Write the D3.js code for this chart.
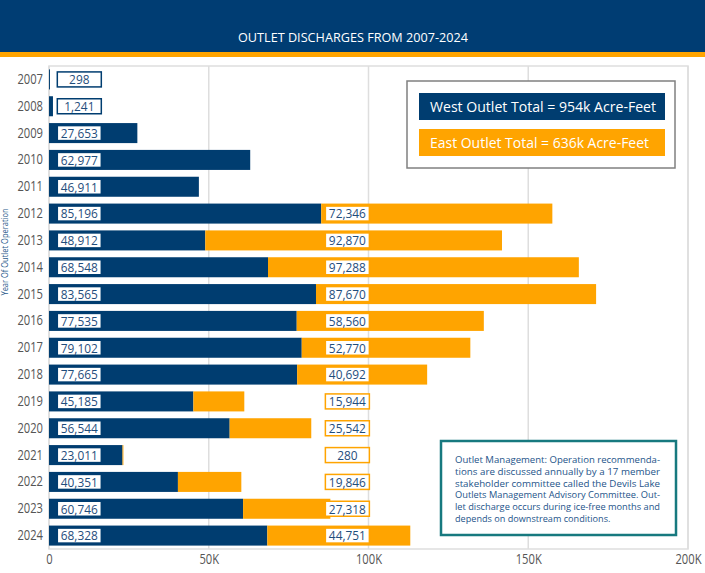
<!DOCTYPE html>
<html>
<head>
<meta charset="utf-8">
<script src="https://cdn.jsdelivr.net/npm/d3@7"></script>
<style>
  html, body { margin: 0; padding: 0; background: #fff; }
  svg { display: block; }
</style>
</head>
<body>
<svg id="chart" width="705" height="573"></svg>
<script>
const years = ["2007","2008","2009","2010","2011","2012","2013","2014","2015","2016","2017","2018","2019","2020","2021","2022","2023","2024"];
const westValues = [298, 1241, 27653, 62977, 46911, 85196, 48912, 68548, 83565, 77535, 79102, 77665, 45185, 56544, 23011, 40351, 60746, 68328];
const eastValues = [0, 0, 0, 0, 0, 72346, 92870, 97288, 87670, 58560, 52770, 40692, 15944, 25542, 280, 19846, 27318, 44751];
const xTicks = [0, 50000, 100000, 150000, 200000];
const xTickLabels = ["0", "50K", "100K", "150K", "200K"];
const titleText = "OUTLET DISCHARGES FROM 2007-2024";
const yAxisTitle = "Year Of Outlet Operation";
const legendLabels = ["West Outlet Total = 954k Acre-Feet", "East Outlet Total = 636k Acre-Feet"];
const noteLines = [
  "Outlet Management: Operation recommenda-",
  "tions are discussed annually by a 17 member",
  "stakeholder committee called the Devils Lake",
  "Outlets Management Advisory Committee. Out-",
  "let discharge occurs during ice-free months and",
  "depends on downstream conditions."
];

const NAVY = "#003d70";
const ORANGE = "#ffa400";
const LABEL_TXT = "#1f4d7c";
const GRID = "#dedede";
const SANS = "'Open Sans', 'Noto Sans', sans-serif";

const svg = d3.select("#chart");
const W = 705;

// condense text horizontally (Myriad-like look)
function condense(sel, factor) {
  sel.each(function () {
    const len = this.getComputedTextLength();
    d3.select(this).attr("textLength", len * factor).attr("lengthAdjust", "spacingAndGlyphs");
  });
}

// header
svg.append("rect").attr("x", 0).attr("y", 0).attr("width", W).attr("height", 52).attr("fill", "#003d73");
svg.append("rect").attr("x", 0).attr("y", 52).attr("width", W).attr("height", 5).attr("fill", ORANGE);
svg.append("text").attr("x", 353).attr("y", 42).attr("text-anchor", "middle")
  .attr("fill", "#fff").attr("font-family", SANS).attr("font-size", 13)
  .attr("textLength", 230).attr("lengthAdjust", "spacingAndGlyphs").text(titleText);

const m = { left: 49, right: 688, top: 66, bottom: 549 };
const x = d3.scaleLinear().domain([0, 200000]).range([m.left, m.right]);
const y = d3.scaleBand().domain(years).range([m.top, m.bottom]).paddingInner(0.254).paddingOuter(0.127);

// frame + gridlines
svg.append("rect").attr("x", m.left).attr("y", m.top).attr("width", m.right - m.left).attr("height", m.bottom - m.top)
  .attr("fill", "none").attr("stroke", GRID).attr("stroke-width", 1.5);
svg.append("g").selectAll("line").data(xTicks).join("line")
  .attr("x1", d => x(d)).attr("x2", d => x(d)).attr("y1", m.top).attr("y2", m.bottom)
  .attr("stroke", GRID).attr("stroke-width", 1.5);

// axes
const xAxis = d3.axisBottom(x).tickValues(xTicks).tickFormat((d, i) => xTickLabels[i]).tickSize(0).tickPadding(5);
const gx = svg.append("g").attr("transform", `translate(0,${m.bottom})`).call(xAxis);
gx.select(".domain").remove();
gx.selectAll("text").attr("fill", "#555").attr("font-family", SANS).attr("font-size", 14);
condense(gx.selectAll("text"), 0.8);

const yAxis = d3.axisLeft(y).tickSize(0).tickPadding(6);
const gy = svg.append("g").attr("transform", `translate(${m.left},0)`).call(yAxis);
gy.select(".domain").remove();
gy.selectAll("text").attr("fill", "#555").attr("font-family", SANS).attr("font-size", 14);
condense(gy.selectAll("text"), 0.8);

const yt = svg.append("text").attr("transform", `translate(8,252) rotate(-90)`).attr("text-anchor", "middle")
  .attr("fill", "#2a5b8c").attr("font-family", SANS).attr("font-size", 8.5).text(yAxisTitle);
condense(yt, 0.88);

// bars
const rows = years.map((yr, i) => ({ year: yr, west: westValues[i], east: eastValues[i] }));
svg.append("g").selectAll("rect").data(rows).join("rect")
  .attr("x", x(0)).attr("y", d => y(d.year)).attr("height", y.bandwidth())
  .attr("width", d => x(d.west) - x(0)).attr("fill", NAVY);
svg.append("g").selectAll("rect").data(rows.filter(d => d.east > 0)).join("rect")
  .attr("x", d => x(d.west)).attr("y", d => y(d.year)).attr("height", y.bandwidth())
  .attr("width", d => x(d.west + d.east) - x(d.west)).attr("fill", ORANGE);

// value labels
const fmt = d3.format(",");
const boxW = 44, boxH = 15;
function labels(data, key, x0, stroke) {
  const g = svg.append("g").selectAll("g").data(data).join("g")
    .attr("transform", d => `translate(${x0},${y(d.year) + y.bandwidth() / 2})`);
  g.append("rect").attr("x", 0).attr("y", -boxH / 2).attr("width", boxW).attr("height", boxH)
    .attr("fill", "#fff").attr("stroke", stroke).attr("stroke-width", 1.5);
  const t = g.append("text").attr("x", boxW / 2).attr("y", 4.8).attr("text-anchor", "middle")
    .attr("fill", LABEL_TXT).attr("font-family", SANS).attr("font-size", 13.5).text(d => fmt(d[key]));
  condense(t, 0.88);
}
labels(rows, "west", x(2600), NAVY);
labels(rows.filter(d => d.east > 0), "east", x(86500), ORANGE);

// legend
const lg = svg.append("g");
lg.append("rect").attr("x", 407).attr("y", 81).attr("width", 268).attr("height", 87)
  .attr("fill", "#fff").attr("stroke", "#808080").attr("stroke-width", 1.5);
const legendTextW = [226, 219];
[NAVY, ORANGE].forEach((c, i) => {
  lg.append("rect").attr("x", 419).attr("y", 93 + i * 36).attr("width", 246).attr("height", 27).attr("fill", c);
  lg.append("text").attr("x", 430).attr("y", 112 + i * 36).attr("fill", "#fff")
    .attr("font-family", SANS).attr("font-size", 14.5)
    .attr("textLength", legendTextW[i]).attr("lengthAdjust", "spacingAndGlyphs").text(legendLabels[i]);
});

// note box
const ng = svg.append("g");
ng.append("rect").attr("x", 441).attr("y", 441).attr("width", 235).attr("height", 94)
  .attr("fill", "#fff").attr("stroke", "#17797f").attr("stroke-width", 2.5);
noteLines.forEach((t, i) => {
  const tx = ng.append("text").attr("x", 455).attr("y", 463 + i * 11.8).attr("fill", "#24548a")
    .attr("font-family", SANS).attr("font-size", 9.6).text(t);
  if (i < noteLines.length - 1) tx.attr("textLength", 205).attr("lengthAdjust", "spacingAndGlyphs");
  else condense(tx, 0.95);
});
</script>
</body>
</html>
